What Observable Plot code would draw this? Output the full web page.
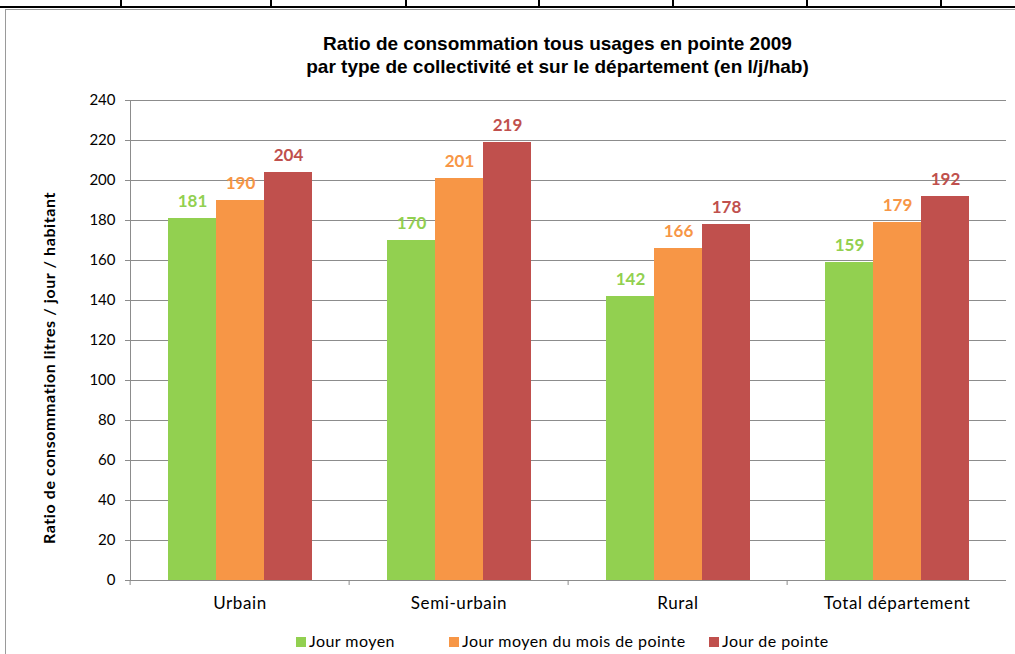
<!DOCTYPE html>
<html>
<head>
<meta charset="utf-8">
<script src="https://cdn.jsdelivr.net/npm/d3@7"></script>
<script src="https://cdn.jsdelivr.net/npm/@observablehq/plot@0.6"></script>
<style>
  html, body { margin: 0; padding: 0; background: #fff; }
  #wrap { position: relative; width: 1015px; height: 654px; overflow: hidden; }
  .abs { position: absolute; }
  #title { left: 0; width: 1115px; top: 32px; text-align: center; font: bold 19px "Liberation Sans", Arial, sans-serif; line-height: 23px; color: #000; }
  #ylabel { left: 48px; top: 368px; transform: translate(-50%, -50%) rotate(-90deg); white-space: nowrap; font: bold 16px Lato, sans-serif; letter-spacing: 0.6px; color: #000; }
  #legend { top: 631px; left: 0; width: 1015px; font: 16px Lato, sans-serif; letter-spacing: 0.45px; color: #000; }
  .lg { position: absolute; white-space: nowrap; }
  .sw { display: inline-block; width: 10px; height: 10px; margin-right: 3px; vertical-align: 0px; }
  .fxlab text { letter-spacing: 0.6px; }
</style>
</head>
<body>
<div id="wrap">
  <div id="chart" class="abs" style="left:0;top:0"></div>
  <div id="title" class="abs">Ratio de consommation tous usages en pointe 2009<br>par type de collectivité et sur le département (en l/j/hab)</div>
  <div id="ylabel" class="abs">Ratio de consommation litres / jour / habitant</div>
  <div id="legend" class="abs"></div>
</div>
<script>
const categories = ["Urbain", "Semi-urbain", "Rural", "Total département"];
const series = ["Jour moyen", "Jour moyen du mois de pointe", "Jour de pointe"];
const jourMoyen = [181, 170, 142, 159];
const moisPointe = [190, 201, 166, 179];
const jourPointe = [204, 219, 178, 192];
const colors = ["#92D050", "#F79646", "#C0504D"];
const yTicks = [0, 20, 40, 60, 80, 100, 120, 140, 160, 180, 200, 220, 240];

const valuesBySeries = [jourMoyen, moisPointe, jourPointe];
const data = [];
categories.forEach((c, i) => series.forEach((s, j) => data.push({cat: c, series: s, value: valuesBySeries[j][i]})));

const W = 1015, H = 654, mL = 128, mR = 8, mT = 100, mB = 74;
const step = (W - mL - mR) / categories.length;

const chart = Plot.plot({
  width: W, height: H,
  marginLeft: mL, marginRight: mR, marginTop: mT, marginBottom: mB,
  style: {fontFamily: "Lato, sans-serif", fontSize: "15px", color: "#000", background: "transparent"},
  fx: {domain: categories, padding: 0, label: null},
  x: {domain: series, paddingInner: 0, paddingOuter: 0.76, axis: null},
  y: {domain: [0, 240], label: null},
  color: {domain: series, range: colors},
  marks: [
    Plot.ruleY(yTicks, {stroke: "#8c8c8c", strokeWidth: 1}),
    Plot.barY(data, {fx: "cat", x: "series", y: "value", fill: "series"}),
    Plot.text(data, {fx: "cat", x: "series", y: "value", text: d => String(d.value),
      fill: "series", fontWeight: "bold", fontSize: 17, lineAnchor: "bottom", dy: -12}),
    Plot.frame({anchor: "left", stroke: "#8c8c8c", facet: "super"}),
    Plot.axisY({ticks: yTicks, tickSize: 5, tickPadding: 10, stroke: "#8c8c8c", label: null}),
    Plot.axisFx({anchor: "bottom", tickSize: 5, dx: -step / 2, tickFormat: () => "", stroke: "#8c8c8c", label: null}),
    Plot.axisFx({anchor: "bottom", tickSize: 0, tickPadding: 16, fontSize: 17, className: "fxlab", label: null})
  ]
});
document.getElementById("chart").appendChild(chart);

// decorative table borders around the chart
const wrap = document.getElementById("wrap");
function box(css) { const d = document.createElement("div"); d.className = "abs"; d.style.cssText = css; wrap.appendChild(d); }
box("left:0;top:6px;width:1015px;height:2px;background:#000");
[120, 270, 405, 538, 672, 806, 940].forEach(x => box(`left:${x}px;top:0;width:2px;height:7px;background:#000`));
box("left:5px;top:9px;width:1015px;height:660px;border:1.5px solid #9a9a9a;box-sizing:border-box");

// legend
const legend = document.getElementById("legend");
const legX = [296, 449, 709];
series.forEach((s, i) => {
  const el = document.createElement("div");
  el.className = "lg";
  el.style.left = legX[i] + "px";
  el.innerHTML = `<span class="sw" style="background:${colors[i]}"></span>${s}`;
  legend.appendChild(el);
});
</script>
</body>
</html>
